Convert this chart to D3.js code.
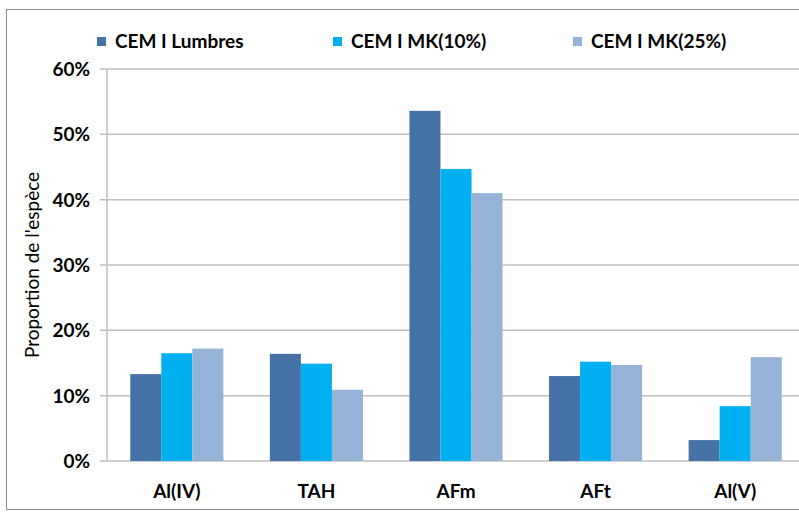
<!DOCTYPE html>
<html>
<head>
<meta charset="utf-8">
<script src="https://cdn.jsdelivr.net/npm/d3@7"></script>
<style>
  body { margin: 0; background: #fff; }
  text { font-family: Lato, "Open Sans", sans-serif; fill: #000; }
</style>
</head>
<body>
<script>
var w = 799;
var h = 514;

var categories = ["Al(IV)", "TAH", "AFm", "AFt", "Al(V)"];
var seriesNames = ["CEM I Lumbres", "CEM I MK(10%)", "CEM I MK(25%)"];
var seriesColors = ["#4572A7", "#00B0F0", "#95B3D7"];
var lumbres = [13.3, 16.4, 53.6, 13.0, 3.2];
var mk10 = [16.5, 14.9, 44.7, 15.2, 8.4];
var mk25 = [17.2, 10.9, 41.0, 14.7, 15.9];
var yTicks = [0, 10, 20, 30, 40, 50, 60];

var series = [lumbres, mk10, mk25];

var pLeft = 107, pRight = 805, pTop = 69, pBottom = 461;

var svg = d3.select("body")
            .append("svg")
              .attr("width", w)
              .attr("height", h);

// outer frame
svg.append("rect")
   .attr("x", 6.5).attr("y", 9.5)
   .attr("width", 820).attr("height", 500)
   .attr("fill", "none")
   .attr("stroke", "#8c8c8c")
   .attr("stroke-width", 1);

var x = d3.scaleBand()
          .domain(categories)
          .range([pLeft, pRight])
          .paddingInner(0.333)
          .paddingOuter(0.1667);

var xs = d3.scaleBand()
           .domain(d3.range(series.length))
           .range([0, x.bandwidth()]);

var y = d3.scaleLinear()
          .domain([0, 60])
          .range([pBottom, pTop]);

// gridlines
svg.append("g")
   .selectAll("line")
   .data(yTicks)
   .enter()
   .append("line")
     .attr("x1", pLeft - 7)
     .attr("x2", pRight)
     .attr("y1", function(d) { return y(d); })
     .attr("y2", function(d) { return y(d); })
     .attr("stroke", "#bfbfbf")
     .attr("stroke-width", 1.5);

// y axis line
svg.append("line")
   .attr("x1", pLeft).attr("x2", pLeft)
   .attr("y1", pTop).attr("y2", pBottom)
   .attr("stroke", "#bfbfbf")
   .attr("stroke-width", 1.5);

// bars
series.forEach(function(vals, si) {
  svg.append("g")
     .selectAll("rect")
     .data(vals)
     .enter()
     .append("rect")
       .attr("x", function(d, i) { return x(categories[i]) + xs(si); })
       .attr("y", function(d) { return y(d); })
       .attr("width", xs.bandwidth())
       .attr("height", function(d) { return pBottom - y(d); })
       .attr("fill", seriesColors[si]);
});

// y tick labels
svg.append("g")
   .selectAll("text")
   .data(yTicks)
   .enter()
   .append("text")
     .text(function(d) { return d + "%"; })
     .attr("x", 90)
     .attr("y", function(d) { return y(d) + 7; })
     .attr("text-anchor", "end")
     .attr("font-size", "19px")
     .attr("font-weight", "bold");

// x labels
svg.append("g")
   .selectAll("text")
   .data(categories)
   .enter()
   .append("text")
     .text(function(d) { return d; })
     .attr("x", function(d) { return x(d) + x.bandwidth() / 2; })
     .attr("y", 498)
     .attr("text-anchor", "middle")
     .attr("font-size", "19px")
     .attr("font-weight", "bold");

// y title
svg.append("text")
   .text("Proportion de l'espèce")
   .attr("transform", "translate(39,265) rotate(-90)")
   .attr("text-anchor", "middle")
   .attr("font-size", "19px");

// legend
var legendX = [97, 333, 573];
var legend = svg.append("g")
                .selectAll("g")
                .data(seriesNames)
                .enter()
                .append("g")
                  .attr("transform", function(d, i) { return "translate(" + legendX[i] + ",37)"; });

legend.append("rect")
      .attr("width", 9).attr("height", 9)
      .attr("fill", function(d, i) { return seriesColors[i]; });

legend.append("text")
      .text(function(d) { return d; })
      .attr("x", 18)
      .attr("y", 11)
      .attr("font-size", "19px")
      .attr("font-weight", "bold");
</script>
</body>
</html>
